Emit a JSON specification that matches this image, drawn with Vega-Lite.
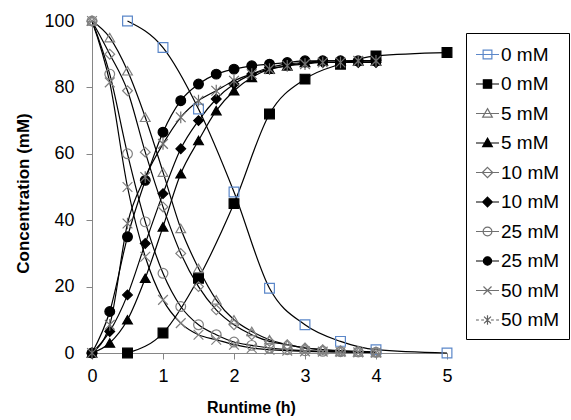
{
  "$schema": "https://vega.github.io/schema/vega-lite/v6.json",
  "width": 355,
  "height": 332,
  "autosize": "none",
  "padding": {"left": 92, "top": 21, "right": 124, "bottom": 67},
  "background": "white",
  "config": {"view": {"stroke": null}, "font": "Liberation Sans"},
  "data": {"values": [
    {"s":"0 mM|o","t":0.5,"c":100},{"s":"0 mM|o","t":1,"c":92},{"s":"0 mM|o","t":1.5,"c":73.5},{"s":"0 mM|o","t":2,"c":48.5},{"s":"0 mM|o","t":2.5,"c":19.5},{"s":"0 mM|o","t":3,"c":8.5},{"s":"0 mM|o","t":3.5,"c":3.5},{"s":"0 mM|o","t":4,"c":1},{"s":"0 mM|o","t":5,"c":0},
    {"s":"0 mM|f","t":0.5,"c":0},{"s":"0 mM|f","t":1,"c":6},{"s":"0 mM|f","t":1.5,"c":22.5},{"s":"0 mM|f","t":2,"c":45},{"s":"0 mM|f","t":2.5,"c":72},{"s":"0 mM|f","t":3,"c":82.5},{"s":"0 mM|f","t":3.5,"c":87},{"s":"0 mM|f","t":4,"c":89.5},{"s":"0 mM|f","t":5,"c":90.5},
    {"s":"5 mM|o","t":0,"c":100},{"s":"5 mM|o","t":0.25,"c":95},{"s":"5 mM|o","t":0.5,"c":85},{"s":"5 mM|o","t":0.75,"c":71},{"s":"5 mM|o","t":1,"c":54.5},{"s":"5 mM|o","t":1.25,"c":37.5},{"s":"5 mM|o","t":1.5,"c":25.5},{"s":"5 mM|o","t":1.75,"c":16},{"s":"5 mM|o","t":2,"c":10},{"s":"5 mM|o","t":2.25,"c":6.5},{"s":"5 mM|o","t":2.5,"c":4},{"s":"5 mM|o","t":2.75,"c":2.5},{"s":"5 mM|o","t":3,"c":1.5},{"s":"5 mM|o","t":3.25,"c":1},{"s":"5 mM|o","t":3.5,"c":0.5},{"s":"5 mM|o","t":3.75,"c":0.3},{"s":"5 mM|o","t":4,"c":0.2},
    {"s":"5 mM|f","t":0,"c":0},{"s":"5 mM|f","t":0.25,"c":3},{"s":"5 mM|f","t":0.5,"c":10},{"s":"5 mM|f","t":0.75,"c":22.5},{"s":"5 mM|f","t":1,"c":38},{"s":"5 mM|f","t":1.25,"c":54},{"s":"5 mM|f","t":1.5,"c":64},{"s":"5 mM|f","t":1.75,"c":73},{"s":"5 mM|f","t":2,"c":79},{"s":"5 mM|f","t":2.25,"c":83},{"s":"5 mM|f","t":2.5,"c":85.5},{"s":"5 mM|f","t":2.75,"c":86.5},{"s":"5 mM|f","t":3,"c":87.5},{"s":"5 mM|f","t":3.25,"c":88},{"s":"5 mM|f","t":3.5,"c":88},{"s":"5 mM|f","t":3.75,"c":88},{"s":"5 mM|f","t":4,"c":88},
    {"s":"10 mM|o","t":0,"c":100},{"s":"10 mM|o","t":0.25,"c":90},{"s":"10 mM|o","t":0.5,"c":79},{"s":"10 mM|o","t":0.75,"c":60.5},{"s":"10 mM|o","t":1,"c":44},{"s":"10 mM|o","t":1.25,"c":30},{"s":"10 mM|o","t":1.5,"c":20},{"s":"10 mM|o","t":1.75,"c":13},{"s":"10 mM|o","t":2,"c":8.5},{"s":"10 mM|o","t":2.25,"c":5.5},{"s":"10 mM|o","t":2.5,"c":3.5},{"s":"10 mM|o","t":2.75,"c":2.5},{"s":"10 mM|o","t":3,"c":1.5},{"s":"10 mM|o","t":3.25,"c":1},{"s":"10 mM|o","t":3.5,"c":0.7},{"s":"10 mM|o","t":3.75,"c":0.5},{"s":"10 mM|o","t":4,"c":0.3},
    {"s":"10 mM|f","t":0,"c":0},{"s":"10 mM|f","t":0.25,"c":6.5},{"s":"10 mM|f","t":0.5,"c":17.5},{"s":"10 mM|f","t":0.75,"c":33},{"s":"10 mM|f","t":1,"c":48},{"s":"10 mM|f","t":1.25,"c":61.5},{"s":"10 mM|f","t":1.5,"c":70},{"s":"10 mM|f","t":1.75,"c":76.5},{"s":"10 mM|f","t":2,"c":81},{"s":"10 mM|f","t":2.25,"c":84},{"s":"10 mM|f","t":2.5,"c":86},{"s":"10 mM|f","t":2.75,"c":87},{"s":"10 mM|f","t":3,"c":87.5},{"s":"10 mM|f","t":3.25,"c":87.5},{"s":"10 mM|f","t":3.5,"c":87.5},{"s":"10 mM|f","t":3.75,"c":87.5},{"s":"10 mM|f","t":4,"c":87.5},
    {"s":"25 mM|o","t":0,"c":100},{"s":"25 mM|o","t":0.25,"c":84},{"s":"25 mM|o","t":0.5,"c":60},{"s":"25 mM|o","t":0.75,"c":39.5},{"s":"25 mM|o","t":1,"c":24},{"s":"25 mM|o","t":1.25,"c":14},{"s":"25 mM|o","t":1.5,"c":8.5},{"s":"25 mM|o","t":1.75,"c":5.5},{"s":"25 mM|o","t":2,"c":3.3},{"s":"25 mM|o","t":2.25,"c":2.3},{"s":"25 mM|o","t":2.5,"c":1.5},{"s":"25 mM|o","t":2.75,"c":1},{"s":"25 mM|o","t":3,"c":0.7},{"s":"25 mM|o","t":3.25,"c":0.5},{"s":"25 mM|o","t":3.5,"c":0.4},{"s":"25 mM|o","t":3.75,"c":0.3},{"s":"25 mM|o","t":4,"c":0.2},
    {"s":"25 mM|f","t":0,"c":0},{"s":"25 mM|f","t":0.25,"c":12.5},{"s":"25 mM|f","t":0.5,"c":35},{"s":"25 mM|f","t":0.75,"c":52},{"s":"25 mM|f","t":1,"c":66.5},{"s":"25 mM|f","t":1.25,"c":76},{"s":"25 mM|f","t":1.5,"c":81},{"s":"25 mM|f","t":1.75,"c":84},{"s":"25 mM|f","t":2,"c":85.5},{"s":"25 mM|f","t":2.25,"c":86.5},{"s":"25 mM|f","t":2.5,"c":87},{"s":"25 mM|f","t":2.75,"c":87.5},{"s":"25 mM|f","t":3,"c":88},{"s":"25 mM|f","t":3.25,"c":88},{"s":"25 mM|f","t":3.5,"c":88},{"s":"25 mM|f","t":3.75,"c":88},{"s":"25 mM|f","t":4,"c":88},
    {"s":"50 mM|o","t":0,"c":100},{"s":"50 mM|o","t":0.25,"c":81.5},{"s":"50 mM|o","t":0.5,"c":50},{"s":"50 mM|o","t":0.75,"c":29},{"s":"50 mM|o","t":1,"c":16},{"s":"50 mM|o","t":1.25,"c":9},{"s":"50 mM|o","t":1.5,"c":5.5},{"s":"50 mM|o","t":1.75,"c":4},{"s":"50 mM|o","t":2,"c":2.5},{"s":"50 mM|o","t":2.25,"c":1.5},{"s":"50 mM|o","t":2.5,"c":1},{"s":"50 mM|o","t":2.75,"c":0.7},{"s":"50 mM|o","t":3,"c":0.5},{"s":"50 mM|o","t":3.25,"c":0.4},{"s":"50 mM|o","t":3.5,"c":0.3},{"s":"50 mM|o","t":3.75,"c":0.2},{"s":"50 mM|o","t":4,"c":0.1},
    {"s":"50 mM|f","t":0,"c":0},{"s":"50 mM|f","t":0.25,"c":8.5},{"s":"50 mM|f","t":0.5,"c":39},{"s":"50 mM|f","t":0.75,"c":53},{"s":"50 mM|f","t":1,"c":63},{"s":"50 mM|f","t":1.25,"c":71},{"s":"50 mM|f","t":1.5,"c":76},{"s":"50 mM|f","t":1.75,"c":79},{"s":"50 mM|f","t":2,"c":82},{"s":"50 mM|f","t":2.25,"c":84},{"s":"50 mM|f","t":2.5,"c":85.5},{"s":"50 mM|f","t":2.75,"c":86.5},{"s":"50 mM|f","t":3,"c":87},{"s":"50 mM|f","t":3.25,"c":87.5},{"s":"50 mM|f","t":3.5,"c":87.5},{"s":"50 mM|f","t":3.75,"c":88},{"s":"50 mM|f","t":4,"c":88}
  ]},
  "encoding": {
    "x": {"field": "t", "type": "quantitative", "scale": {"domain": [0, 5], "nice": false},
      "axis": {"values": [0,1,2,3,4,5], "title": "Runtime (h)", "grid": false, "tickSize": 6, "tickColor": "#868686", "domainColor": "#868686", "labelFontSize": 18, "labelColor": "black", "labelPadding": 8, "titleFontSize": 16, "titleFontWeight": "bold", "titleColor": "black", "titlePadding": 14, "titleX": 159, "labelFlush": false}},
    "y": {"field": "c", "type": "quantitative", "scale": {"domain": [0, 100], "nice": false},
      "axis": {"values": [0,20,40,60,80,100], "title": "Concentration (mM)", "grid": false, "tickSize": 6, "tickColor": "#868686", "domainColor": "#868686", "labelFontSize": 18, "labelColor": "black", "labelPadding": 12, "titleFontSize": 17, "titleFontWeight": "bold", "titleColor": "black", "titlePadding": 11, "titleY": 172}}
  },
  "layer": [
    {"mark": {"type": "line", "interpolate": "monotone", "color": "black", "strokeWidth": 1.2},
     "encoding": {"detail": {"field": "s"}}},
    {"mark": {"type": "point", "filled": true, "size": 95, "strokeWidth": 1.2, "opacity": 1},
     "encoding": {
       "shape": {"field": "s", "type": "nominal", "legend": null,
         "scale": {"domain": ["0 mM|o","0 mM|f","5 mM|o","5 mM|f","10 mM|o","10 mM|f","25 mM|o","25 mM|f","50 mM|o","50 mM|f"],
           "range": ["square","square","triangle-up","triangle-up","diamond","diamond","circle","circle","M-1,-1L1,1M-1,1L1,-1","M-1,-1L1,1M-1,1L1,-1M0,-1.2V1.2"]}},
       "fill": {"field": "s", "type": "nominal", "legend": null,
         "scale": {"domain": ["0 mM|o","0 mM|f","5 mM|o","5 mM|f","10 mM|o","10 mM|f","25 mM|o","25 mM|f","50 mM|o","50 mM|f"],
           "range": ["transparent","black","transparent","black","transparent","black","transparent","black","transparent","transparent"]}},
       "stroke": {"field": "s", "type": "nominal", "legend": null,
         "scale": {"domain": ["0 mM|o","0 mM|f","5 mM|o","5 mM|f","10 mM|o","10 mM|f","25 mM|o","25 mM|f","50 mM|o","50 mM|f"],
           "range": ["#5b87c9","black","#808080","black","#808080","black","#808080","black","#808080","#707070"]}}
     }},
    {"mark": {"type": "point", "filled": true, "opacity": 0, "size": 10},
     "encoding": {
       "shape": {"field": "s", "type": "nominal", "title": null,
         "scale": {"domain": ["0 mM|o","0 mM|f","5 mM|o","5 mM|f","10 mM|o","10 mM|f","25 mM|o","25 mM|f","50 mM|o","50 mM|f"],
           "range": ["M-1,0H1M-0.38,-0.38H0.38V0.38H-0.38Z","M-1,0H1M-0.36,-0.36H0.36V0.36H-0.36Z","M-1,0H1M0,-0.42L0.42,0.32H-0.42Z","M-1,0H1M0,-0.42L0.42,0.32H-0.42Z","M-1,0H1M0,-0.45L0.45,0L0,0.45L-0.45,0Z","M-1,0H1M0,-0.42L0.42,0L0,0.42L-0.42,0Z","M-1,0H1M0.38,0A0.38,0.38 0 1,1 -0.38,0A0.38,0.38 0 1,1 0.38,0Z","M-1,0H1M0.36,0A0.36,0.36 0 1,1 -0.36,0A0.36,0.36 0 1,1 0.36,0Z","M-1,0H1M-0.35,-0.35L0.35,0.35M-0.35,0.35L0.35,-0.35","M-1,0H-0.75M-0.55,0H-0.3M0.3,0H0.55M0.75,0H1M-0.3,-0.3L0.3,0.3M-0.3,0.3L0.3,-0.3M0,-0.42V0.42"]},
         "legend": {"title": null, "orient": "none", "legendX": 374, "legendY": 12, "labelExpr": "split(datum.label,'|')[0]", "labelFontSize": 19, "labelColor": "black", "symbolSize": 529, "symbolStrokeWidth": 1.2, "symbolOpacity": 1, "rowPadding": 6.5, "padding": 9, "strokeColor": "black", "labelOffset": 1, "symbolOffset": 0}},
       "fill": {"field": "s", "type": "nominal", "title": null,
         "scale": {"domain": ["0 mM|o","0 mM|f","5 mM|o","5 mM|f","10 mM|o","10 mM|f","25 mM|o","25 mM|f","50 mM|o","50 mM|f"],
           "range": ["transparent","black","transparent","black","transparent","black","transparent","black","transparent","transparent"]}},
       "stroke": {"field": "s", "type": "nominal", "title": null,
         "scale": {"domain": ["0 mM|o","0 mM|f","5 mM|o","5 mM|f","10 mM|o","10 mM|f","25 mM|o","25 mM|f","50 mM|o","50 mM|f"],
           "range": ["#5b87c9","black","#707070","black","#707070","black","#707070","black","#707070","#606060"]}}
     }}
  ],
  "resolve": {"scale": {"shape": "independent", "fill": "independent", "stroke": "independent"}}
}
